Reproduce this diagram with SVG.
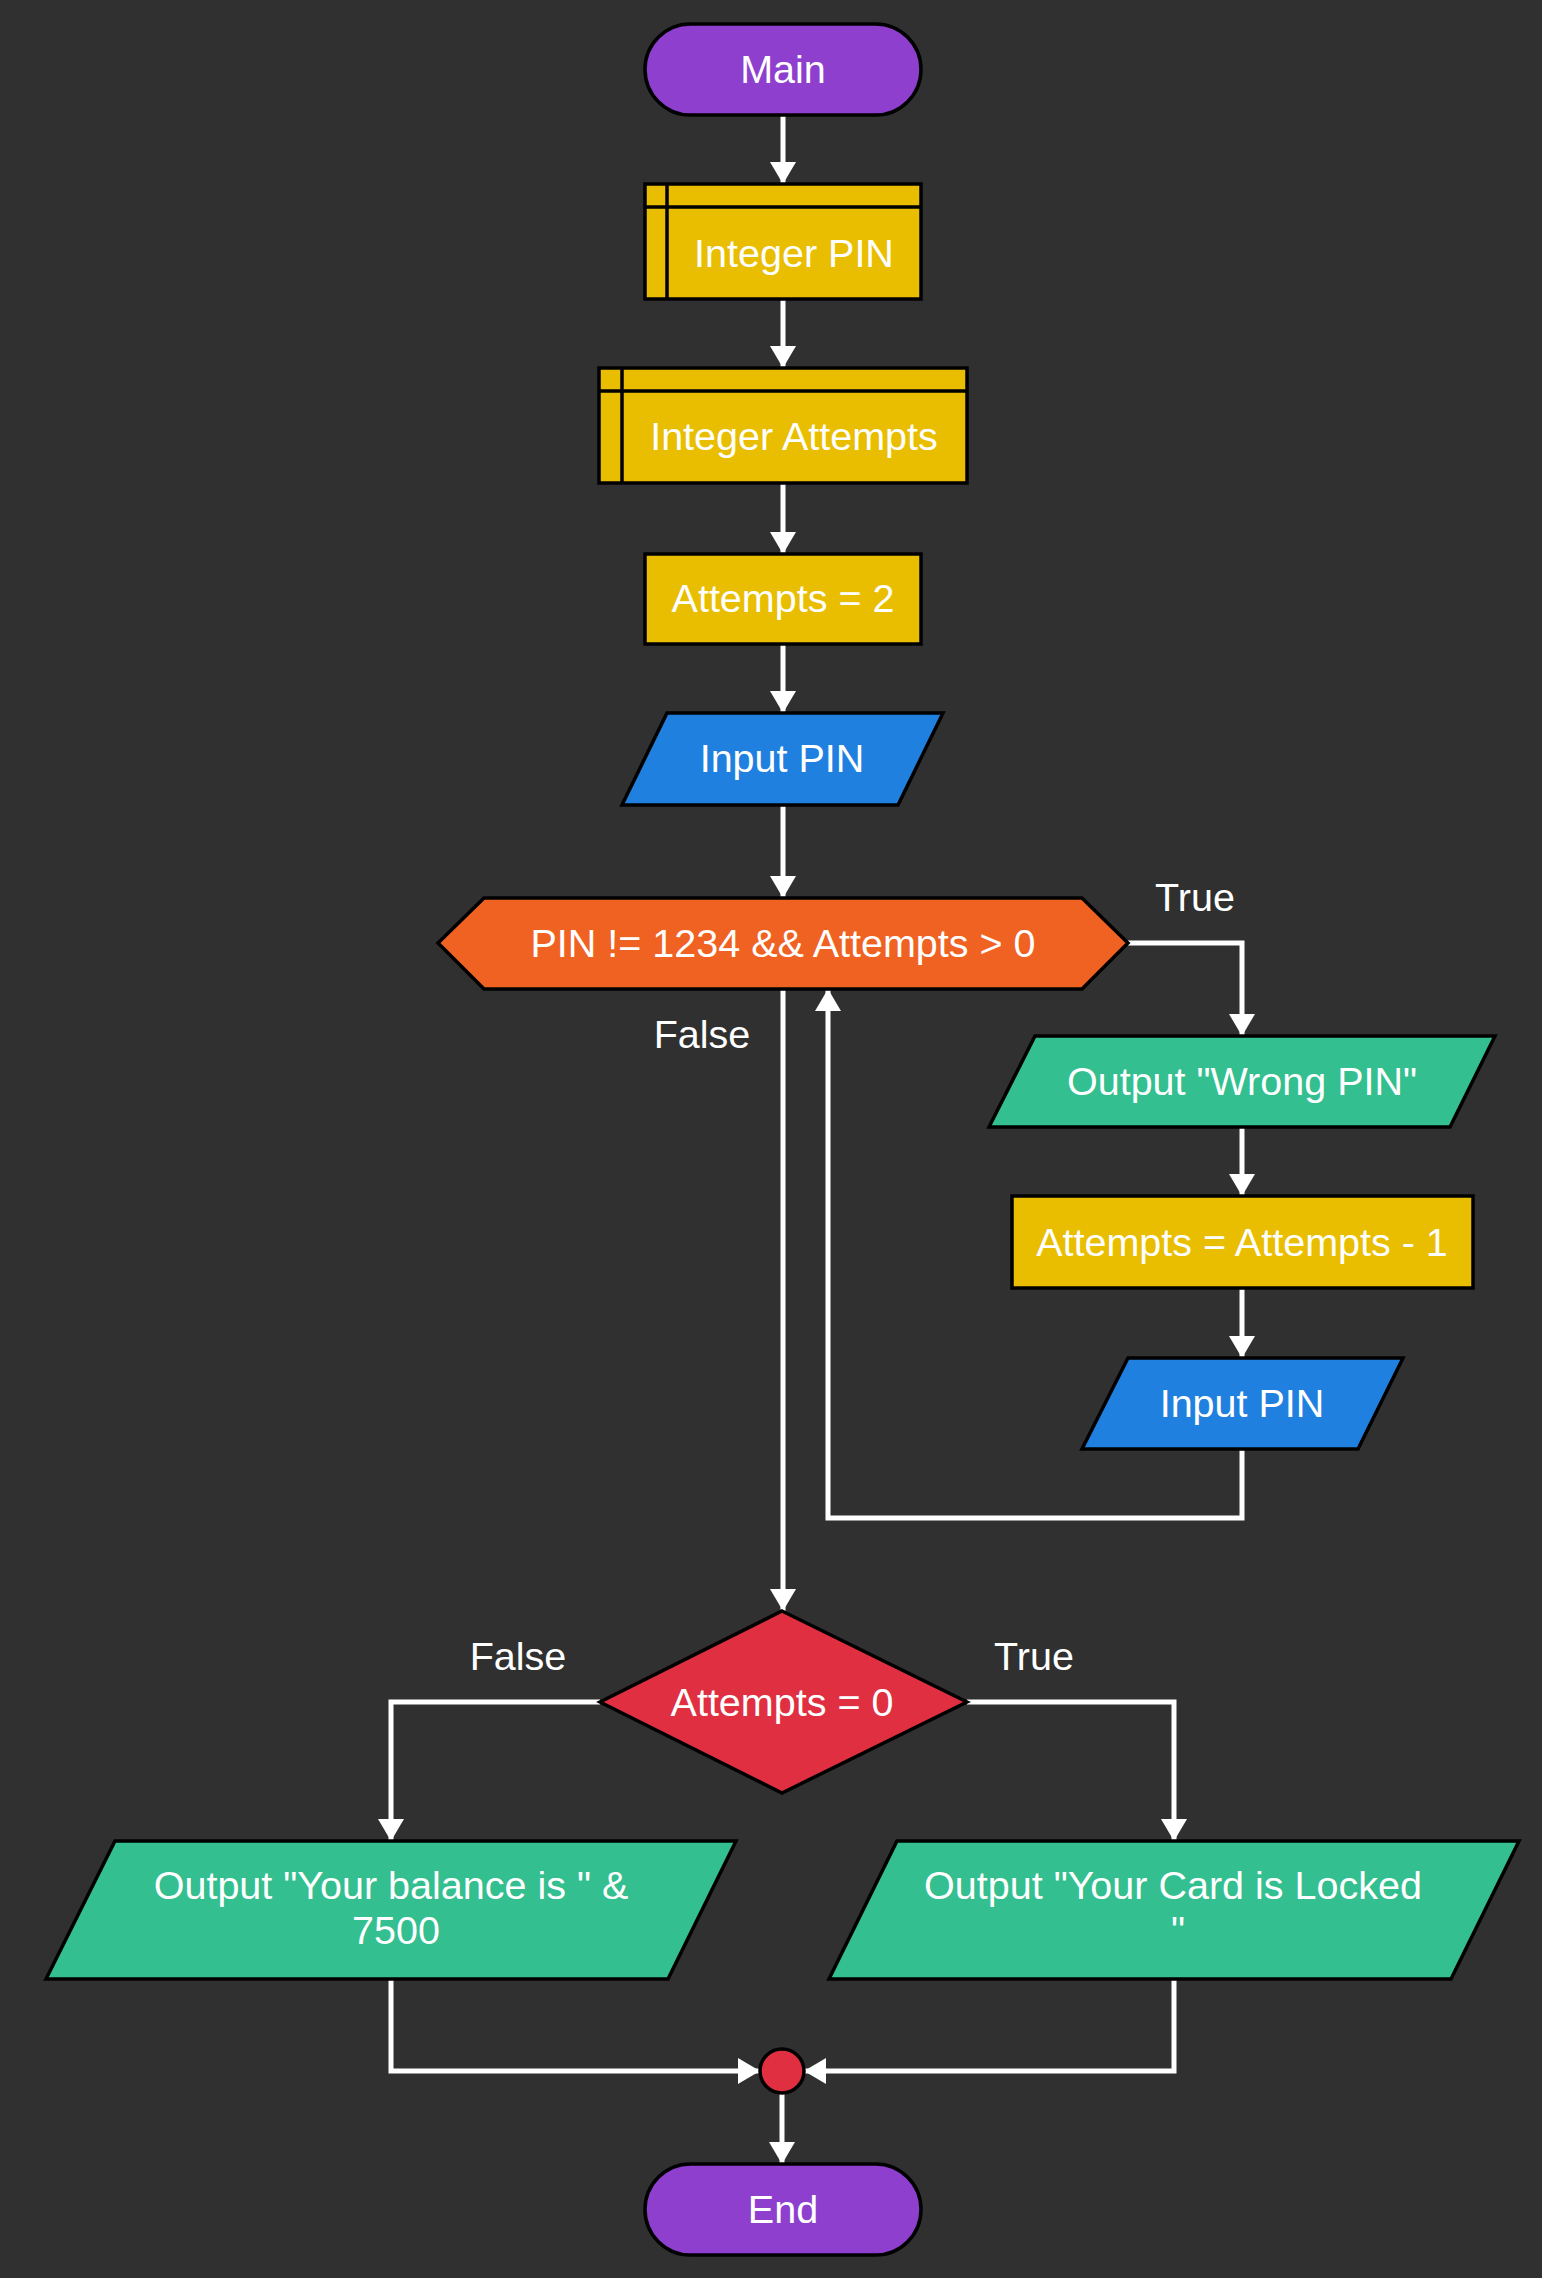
<svg xmlns="http://www.w3.org/2000/svg" width="1542" height="2278" viewBox="0 0 1542 2278">
<defs>
<marker id="ah" markerUnits="userSpaceOnUse" markerWidth="23" markerHeight="26" refX="22" refY="13" orient="auto">
<path d="M0,0 L22,13 L0,26 z" fill="#ffffff"/>
</marker>
<style>
.n{stroke:#000;stroke-width:3.5}
.t{font-family:"Liberation Sans",Arial,sans-serif;font-size:39.5px;fill:#fff;text-anchor:middle}
.l{font-family:"Liberation Sans",Arial,sans-serif;font-size:39.5px;fill:#fff;text-anchor:middle}
.c{fill:none;stroke:#fff;stroke-width:5;marker-end:url(#ah)}
.purple{fill:#8E3FCE}.yellow{fill:#E9BE00}.blue{fill:#2080DF}.orange{fill:#F06222}.green{fill:#33BF8F}.red{fill:#E02F41}
</style>
</defs>
<rect width="1542" height="2278" fill="#303030"/>
<g id="connectors">
<path class="c" d="M783,115 V184"/>
<path class="c" d="M783,299 V368"/>
<path class="c" d="M783,483 V554"/>
<path class="c" d="M783,644 V713"/>
<path class="c" d="M783,805 V898"/>
<path class="c" d="M1128,943 H1242 V1036"/>
<path class="c" d="M1242,1127 V1196"/>
<path class="c" d="M1242,1288 V1358"/>
<path class="c" d="M1242,1449 V1518 H828 V989"/>
<path class="c" d="M783,989 V1611"/>
<path class="c" d="M600,1702 H391 V1841"/>
<path class="c" d="M967,1702 H1174 V1841"/>
<path class="c" d="M391,1979 V2071 H760"/>
<path class="c" d="M1174,1979 V2071 H804"/>
<path class="c" d="M782,2093 V2164"/>
</g>
<g id="labels">
<text class="l" x="1195" y="911">True</text>
<text class="l" x="702" y="1048">False</text>
<text class="l" x="518" y="1670">False</text>
<text class="l" x="1034" y="1670">True</text>
</g>
<g id="main">
<rect class="n purple" x="645" y="24" width="276" height="91" rx="45.5"/>
<text class="t" x="783" y="83">Main</text>
</g>
<g id="integer-pin">
<rect class="n yellow" x="645" y="184" width="276" height="115"/>
<path d="M645,207 H921 M667,184 V299" stroke="#000" stroke-width="3.5" fill="none"/>
<text class="t" x="794" y="267">Integer PIN</text>
</g>
<g id="integer-attempts">
<rect class="n yellow" x="599" y="368" width="368" height="115"/>
<path d="M599,391 H967 M622,368 V483" stroke="#000" stroke-width="3.5" fill="none"/>
<text class="t" x="794" y="450">Integer Attempts</text>
</g>
<g id="attempts-2">
<rect class="n yellow" x="645" y="554" width="276" height="90"/>
<text class="t" x="783" y="612">Attempts = 2</text>
</g>
<g id="input-pin-1">
<polygon class="n blue" points="667,713 943,713 898,805 622,805"/>
<text class="t" x="782" y="772">Input PIN</text>
</g>
<g id="loop-condition">
<polygon class="n orange" points="438,943 484,898 1082,898 1128,943 1082,989 484,989"/>
<text class="t" x="783" y="957">PIN != 1234 &amp;&amp; Attempts &gt; 0</text>
</g>
<g id="output-wrong-pin">
<polygon class="n green" points="1035,1036 1495,1036 1450,1127 989,1127"/>
<text class="t" x="1242" y="1095">Output "Wrong PIN"</text>
</g>
<g id="attempts-minus-1">
<rect class="n yellow" x="1012" y="1196" width="461" height="92"/>
<text class="t" x="1242" y="1256">Attempts = Attempts - 1</text>
</g>
<g id="input-pin-2">
<polygon class="n blue" points="1128,1358 1403,1358 1358,1449 1082,1449"/>
<text class="t" x="1242" y="1417">Input PIN</text>
</g>
<g id="attempts-zero">
<polygon class="n red" points="782,1611 967,1702 782,1793 600,1702"/>
<text class="t" x="782" y="1716">Attempts = 0</text>
</g>
<g id="output-balance">
<polygon class="n green" points="115,1841 736,1841 668,1979 46,1979"/>
<text class="t" x="391" y="1899">Output "Your balance is " &amp;</text>
<text class="t" x="396" y="1944">7500</text>
</g>
<g id="output-locked">
<polygon class="n green" points="897,1841 1519,1841 1451,1979 829,1979"/>
<text class="t" x="1173" y="1899">Output "Your Card is Locked</text>
<text class="t" x="1178" y="1944">"</text>
</g>
<g id="merge">
<circle class="n red" cx="782" cy="2071" r="22"/>
</g>
<g id="end">
<rect class="n purple" x="645" y="2164" width="276" height="91" rx="45.5"/>
<text class="t" x="783" y="2223">End</text>
</g>
</svg>
